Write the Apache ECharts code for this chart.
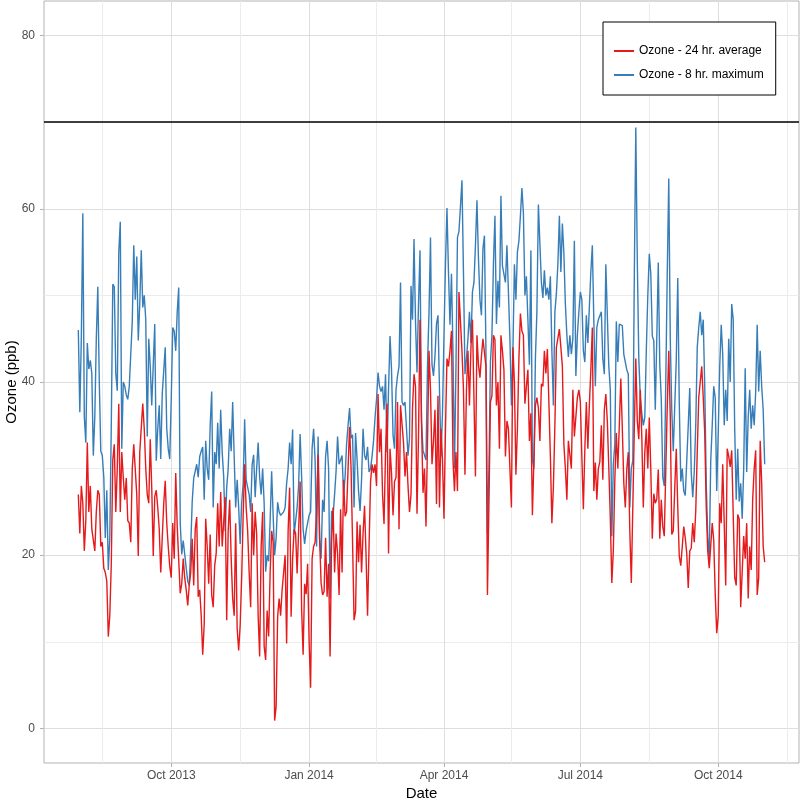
<!DOCTYPE html>
<html><head><meta charset="utf-8">
<script src="https://cdn.jsdelivr.net/npm/echarts@6/dist/echarts.min.js"></script>
<style>html,body{margin:0;padding:0;background:#fff}#c{width:800px;height:800px}</style>
</head><body><div id="c"></div>
<script>
// daily series starting at this date
const startDate = '2013-07-31';
const seriesNames = ['Ozone - 24 hr. average', 'Ozone - 8 hr. maximum'];
const avg24 = [
27,22.5,28,26,20.5,24,33,25,28,23,23,20.5,25,27.5,27,21,21.5,18.5,18,17,10.6,13,19,31,32.8,25,30,37.5,25,31.9,29,26.4,28.9,24,23.7,
21.5,30,32.8,33,27,19.9,31.9,32.1,37.5,34.6,30,27,26,33.4,27.7,19.9,26.8,27.5,25.5,23,18,22,26,28.6,23.7,21,18.7,17.4,23.7,19.6,29.5,23.3,23.5,15.6,16.7,19.6,17.4,16,14.2,
16.5,18,21.9,16.5,23,24.4,15.2,16,13,8.5,12,24.2,21,16.7,22.4,15.4,14,18.8,20.2,26,21,27.3,21,21,26.7,12.5,22.8,26.4,19.6,15,13,23.7,11.5,9,11.9,17.4,24.6,30.5,25.5,22.8,
18,14,26,20,25,22.5,13,8.3,21,25,9.5,7.9,13.6,10.6,18,22.8,21.5,0.9,2.5,12.9,15,13,16,18,20,9.8,22.8,27.8,12.9,19.6,23,22.5,17.9,22.8,28.5,13.8,8.5,16.7,15.5,
19,10,4.7,19.6,21,21.5,25,31.6,22,16.8,15.4,15.8,22,15.2,19,8.3,21.5,25.5,18,22.5,20.2,15.4,25.3,18,28.7,24.5,25,30,34.8,30,21.5,12.5,13.5,23.9,19.2,23.5,18,22.5,25.7,
20,13,21,28.5,30.5,29.5,30.5,28,38.6,31.9,34.6,27,23.6,31.9,37.5,20.2,32.3,29.5,24.6,28.5,29,37.7,23,37.3,37.5,33,29.1,31.9,28,25,27,37,40.9,39.5,24.8,33.7,47.2,35.5,27.2,30,
23.3,33,43.6,39.1,30.5,33.2,36.8,25.9,38.4,25.5,34.6,31,24.2,34.6,42.7,41.8,43.6,45.9,31,27.4,31.9,27.4,50.4,50.4,43.6,39.1,29.3,39.1,43.6,37.3,44,47.2,47.4,29.1,45.4,42,40.5,43,45,
45,41.8,15.4,26,37.7,38.4,45.4,44.9,37.3,40,32.3,45.4,43.6,41.4,31.4,35.5,34.6,30,25.5,44,40,29.3,34.6,42.7,47.9,45.9,45.4,37.5,39.5,41.4,33.2,36.4,24.6,24.5,37.3,38.2,37,33.2,39.8,
39.5,43.6,41,43.8,37.7,31.4,23.7,27.8,35,44,44,46.1,44,41.8,32.8,30,26.4,33.2,33.4,30,39.1,33.7,33.7,38.2,39.1,37.7,31.4,25.3,32.3,37.7,32.3,37.3,41.4,46.3,27.4,30.7,26.4,30,30.8,35,
28.7,36.8,38.6,35.5,30,24.2,16.8,20.5,28.7,34.1,30,35,40.4,34.6,28.3,25.5,30,31.9,22.8,16.8,25.5,34.6,42.7,35.5,33.4,39.1,33.7,25.5,31.9,34.6,30,35.9,30,21.9,27.1,26,26.5,29.9,21.9,
26.4,23.3,22.2,29.8,37.3,43.6,36,22.4,22.8,27.8,32.3,25.5,19.9,18.8,21,23.3,22,20.2,16.2,20.5,20.8,23.7,21.5,25.1,31.9,38.2,40,41.8,38.2,34.1,25.5,20.5,18.5,18.5,23.7,21.7,15.5,11,13,
26,23.7,30.5,23.7,16.5,32.3,31.4,30.2,32.1,31.9,17.4,16.5,24.7,24.2,14,14,22.2,19.6,23.7,15,21,18.3,26.5,30,32.1,15.4,17.4,33.2,28.3,21,19.2
];
const max8 = [
46,36.5,45,59.5,36,33,44.5,41.5,42.5,41,31.5,36,45,51,40,32,31.5,29,22,27.5,18.3,22,35,51.3,51,41,39,55,58.5,32.3,40,39.5,38.5,38,39.5,
39.5,47,55.8,49.5,54.5,44.8,49,55.2,48.6,50,47.2,33.7,45,41.8,37.3,42,46.7,30.9,34.6,37.3,31.1,38.6,38.6,44,34.6,32.3,31.1,38,46.3,45.9,43.6,48.1,50.9,23.7,20.1,21.7,21.9,18.5,17,
16.5,21,26.2,28.9,28.7,30.5,29,31.4,32,32.5,26.4,33.2,30,28.7,35,38.9,25.5,31.9,30.5,35.3,30,36.8,31.9,29.1,22.8,27.8,30,34.6,32,37.7,31.4,25.5,28.7,25.5,21.3,26,28.3,35.7,28.7,28.5,
27,25,30.5,31.6,26.7,30,33,29,27,30,26,18.1,20,19.3,24,29.7,24.6,20,22,26.1,25,24.6,24.6,25,25.5,28.3,30,33,30.5,34.5,22.4,22.4,25.5,28,34,29.1,23,21.3,22.8,
22.6,24.6,25,32.3,34.6,31,21,33.7,21.9,19.6,26.4,25,31.4,33.2,30,15,25.1,24.6,27,29.7,33.7,30.5,31,31.5,27,29,32.8,35,37,33.5,33.9,25.5,34.1,31.1,27.4,25.1,28.7,34.6,31.5,
31,32.5,29.6,30,31.4,33.2,35.9,38,41.1,39.5,38.9,39.5,36.8,40.9,31.9,39.1,45.3,41.4,33.9,32.3,39.1,40.7,41.8,51.5,37.7,37.3,37.7,34.6,31.5,33.5,51.1,47.2,56.5,47,41.1,49,55.2,35.5,32.1,32,
31,42,48,56.7,42,40.7,43,46.7,47.7,39.1,31.4,36.4,45.4,53.6,60.1,52.7,46.6,52.5,43.6,30,41.8,56.7,57.4,60.3,63.3,52.7,40.9,42.7,45,48.1,44.5,50.4,51.5,55.8,61,54.3,49.5,47.7,55.4,
56.9,43.6,22.5,30,42.3,45.4,53.6,59.2,46.7,51.7,48.6,61.5,53.4,53.2,51.5,55.8,50.4,45,37.3,43.6,53.6,49.5,55,56.3,59.2,62.4,59.5,50,52.2,47.2,42,55.2,31,30,42.7,48.1,60.5,56,51.5,
49.7,52.9,50,50.9,49.5,52.2,43.6,37.3,48.1,50.2,53.6,59.2,52.7,58.3,54.9,49,45.4,42.9,45.4,43.2,45,56.3,40.7,45.4,48.1,50.4,49.5,43.6,42.3,47.7,44.5,48.6,52.7,55.8,47,39.5,46.3,47.2,47,48.1,
42.7,40.9,53.6,53.4,41.8,39.1,22.2,30.5,32.8,47,42.3,46.7,46.5,46.5,43.2,42.3,41.4,40.9,25.5,30,30.9,52.2,69.4,54,42.7,38.2,36.4,35,35.9,43.6,50,54.8,52.5,45.3,44.8,36.8,45,53.8,42,
38,29,28,40,52.7,63.5,45,36.8,32,37.3,42.5,52,37.7,28.5,30,27.4,26.9,30.9,35,39.3,29.5,26.7,29.6,35,44,46.3,48.1,45.4,47.2,39.5,28.3,22.2,19.5,30.9,35,39.5,38.2,27.4,34.1,
41.8,46.6,43.2,35,39.1,35.5,45,40,49,47.2,34.6,26.4,32.3,26.2,28.3,24.2,30,41.6,29.6,35.9,39.1,34.6,37.3,35,38.9,46.6,38.9,43.6,39.5,36.8,30.5
];
const standardLevel = 70;
const yTicks = [0, 20, 40, 60, 80];
const yMinorTicks = [10, 30, 50, 70];
const xTickDates = ['2013-10-01', '2014-01-01', '2014-04-01', '2014-07-01', '2014-10-01'];
const xMinorDates = ['2013-08-16', '2013-11-16', '2014-02-15', '2014-05-16', '2014-08-16', '2014-11-16'];
const monthNames = ['Jan','Feb','Mar','Apr','May','Jun','Jul','Aug','Sep','Oct','Nov','Dec'];

const DAY = 86400000;
const t0 = Date.parse(startDate);
const toPairs = arr => arr.map((v, i) => [t0 + i * DAY, v]);
const nDays = Math.max(avg24.length, max8.length) - 1;
const pad = nDays * 0.05 * DAY;
const xMin = t0 - pad, xMax = t0 + nDays * DAY + pad;
const xTicks = xTickDates.map(d => Date.parse(d));
const xMinor = xMinorDates.map(d => Date.parse(d));
const fmt = v => { const d = new Date(v); return monthNames[d.getUTCMonth()] + ' ' + d.getUTCFullYear(); };

const chart = echarts.init(document.getElementById('c'), null, {renderer: 'canvas'});
const font = 'Liberation Sans, Arial, sans-serif';
chart.setOption({
  animation: false,
  textStyle: {fontFamily: font},
  grid: {left: 44, right: 1, top: 1, bottom: 37, show: true, borderColor: '#b3b3b3', borderWidth: 1,
         containLabel: false, outerBoundsMode: 'none'},
  legend: {
    data: seriesNames, orient: 'vertical', left: 603, top: 22,
    padding: [23, 12, 14, 11], itemGap: 12, itemWidth: 20, itemHeight: 2, icon: 'rect',
    borderColor: '#000', borderWidth: 1, backgroundColor: '#fff',
    textStyle: {fontSize: 12, color: '#000', fontFamily: font}
  },
  xAxis: [
    {type: 'value', min: xMin, max: xMax, gridIndex: 0,
     axisLine: {show: false, onZero: false},
     axisTick: {show: true, customValues: xTicks, length: 4, lineStyle: {color: '#b3b3b3'}},
     axisLabel: {customValues: xTicks, formatter: fmt, color: '#4d4d4d', fontSize: 12, margin: 7},
     splitLine: {show: true, lineStyle: {color: '#dedede', width: 1}},
     name: 'Date', nameLocation: 'middle', nameGap: 23, nameMoveOverlap: false,
     nameTextStyle: {fontSize: 15, color: '#000'}},
    {type: 'value', min: xMin, max: xMax, gridIndex: 0,
     axisLine: {show: false, onZero: false}, axisTick: {show: false, customValues: xMinor},
     axisLabel: {show: false, customValues: xMinor},
     splitLine: {show: true, lineStyle: {color: '#ececec', width: 1}}}
  ],
  yAxis: [
    {type: 'value', min: -4, max: 84, gridIndex: 0,
     axisLine: {show: false, onZero: false},
     axisTick: {show: true, customValues: yTicks, length: 4, lineStyle: {color: '#b3b3b3'}},
     axisLabel: {customValues: yTicks, color: '#4d4d4d', fontSize: 12, margin: 9},
     splitLine: {show: true, lineStyle: {color: '#dedede', width: 1}},
     name: 'Ozone (ppb)', nameLocation: 'middle', nameGap: 25, nameMoveOverlap: false,
     nameTextStyle: {fontSize: 15, color: '#000'}},
    {type: 'value', min: -4, max: 84, gridIndex: 0,
     axisLine: {show: false, onZero: false}, axisTick: {show: false, customValues: yMinorTicks},
     axisLabel: {show: false, customValues: yMinorTicks},
     splitLine: {show: true, lineStyle: {color: '#ececec', width: 1}}}
  ],
  series: [
    {name: seriesNames[1], type: 'line', data: toPairs(max8), xAxisIndex: 0, yAxisIndex: 0,
     showSymbol: false, symbol: 'none', color: '#377eb8', lineStyle: {width: 1.4, color: '#377eb8'}, z: 2,
     markLine: {silent: true, symbol: ['none', 'none'], label: {show: false},
       lineStyle: {color: '#000', type: 'solid', width: 1.5}, data: [{yAxis: standardLevel}]}},
    {name: seriesNames[0], type: 'line', data: toPairs(avg24), xAxisIndex: 0, yAxisIndex: 0,
     showSymbol: false, symbol: 'none', color: '#e41a1c', lineStyle: {width: 1.4, color: '#e41a1c'}, z: 3}
  ]
});
</script></body></html>
